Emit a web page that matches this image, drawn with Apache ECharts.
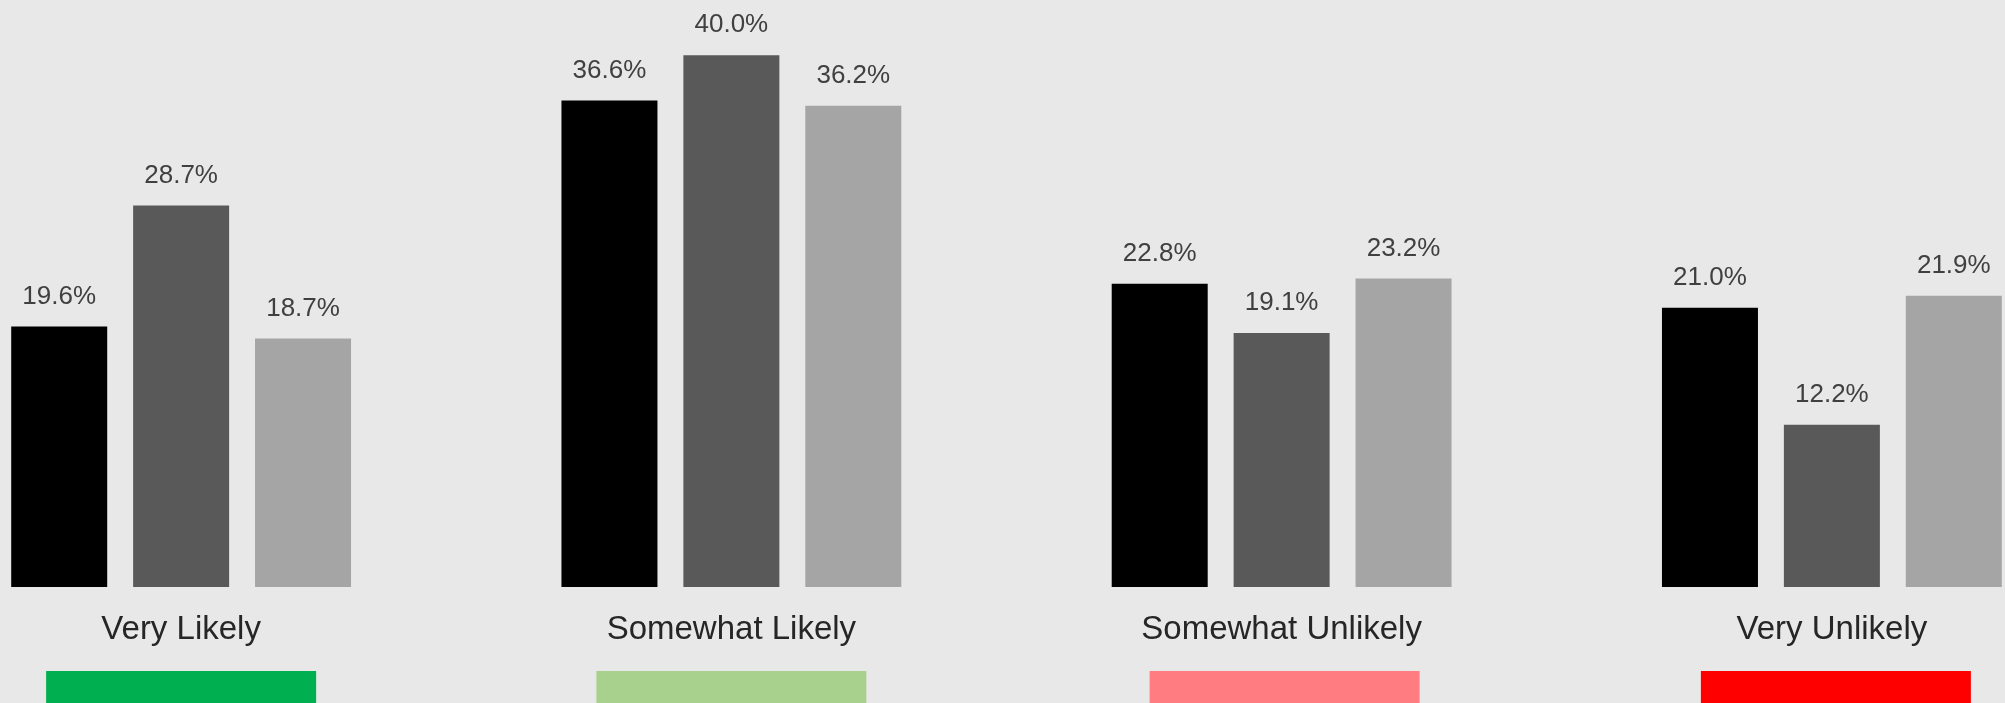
<!DOCTYPE html>
<html>
<head>
<meta charset="utf-8">
<script src="https://cdn.jsdelivr.net/npm/echarts@6/dist/echarts.min.js"></script>
<style>
  html, body { margin: 0; padding: 0; background: #e8e8e8; }
  #chart { width: 2005px; height: 703px; }
</style>
</head>
<body>
<div id="chart"></div>
<script>
// Response categories and the three groups of shares (percent)
const categories = ['Very Likely', 'Somewhat Likely', 'Somewhat Unlikely', 'Very Unlikely'];
const seriesNames = ['Series 1', 'Series 2', 'Series 3'];
const values1 = [19.6, 36.6, 22.8, 21.0];
const values2 = [28.7, 40.0, 19.1, 12.2];
const values3 = [18.7, 36.2, 23.2, 21.9];
// Colour strip shown beneath each category name
const categoryColors = ['#00b050', '#a9d18e', '#ff7c80', '#ff0000'];
// Small left spacer in front of each strip (nudges it a few px right)
const stripNudge = [0, 0, 6, 8];

const barColors = ['#000000', '#595959', '#a5a5a5'];
const font = 'Arial, "Liberation Sans", Helvetica, sans-serif';

const rich = {
  n: { fontSize: 33, fontFamily: font, color: '#262626', lineHeight: 82, align: 'center' }
};
categoryColors.forEach((c, i) => {
  rich['b' + i] = { width: 270, height: 40, lineHeight: 40, backgroundColor: c };
  rich['s' + i] = { width: stripNudge[i], height: 40, lineHeight: 40 };
});

const chart = echarts.init(document.getElementById('chart'), null, { renderer: 'canvas' });
chart.setOption({
  backgroundColor: '#e8e8e8',
  animation: false,
  grid: { left: -94, top: 2, width: 2201, bottom: 116, outerBoundsMode: 'none', containLabel: false },
  xAxis: {
    type: 'category',
    data: categories,
    axisLine: { show: false },
    axisTick: { show: false },
    axisLabel: {
      margin: 2,
      interval: 0,
      formatter: (value, index) =>
        '{n|' + value + '}\n' + (stripNudge[index] ? '{s' + index + '|}' : '') + '{b' + index + '|}',
      rich: rich
    }
  },
  yAxis: { type: 'value', min: 0, max: 44, show: false, splitLine: { show: false } },
  series: [values1, values2, values3].map((vals, i) => ({
    name: seriesNames[i],
    type: 'bar',
    data: vals,
    barWidth: 96,
    barGap: '27%',
    itemStyle: { color: barColors[i] },
    label: {
      show: true,
      position: 'top',
      distance: 17,
      fontSize: 26,
      lineHeight: 26,
      fontFamily: font,
      color: '#404040',
      formatter: p => p.value.toFixed(1) + '%'
    }
  }))
});
</script>
</body>
</html>
